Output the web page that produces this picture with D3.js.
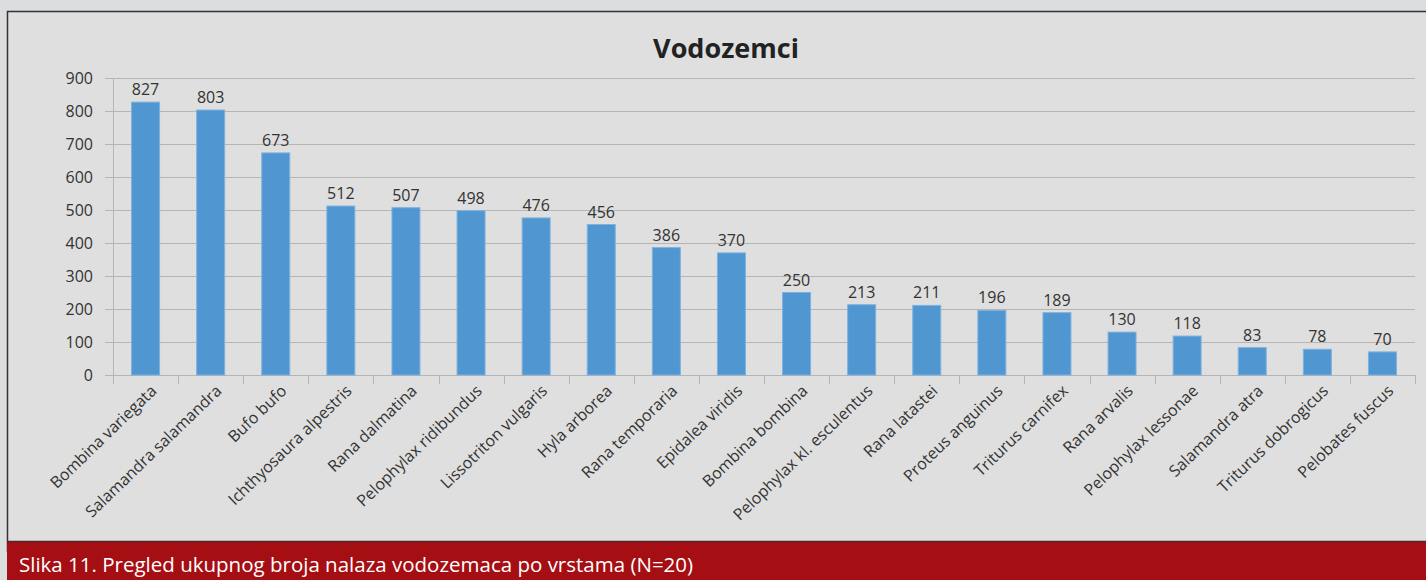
<!DOCTYPE html>
<html>
<head>
<meta charset="utf-8">
<script src="https://cdn.jsdelivr.net/npm/d3@7"></script>
<style>
  body { margin: 0; background: #dcdddf; }
  svg { display: block; font-family: "Open Sans", "Liberation Sans", sans-serif; }
</style>
</head>
<body>
<svg id="svg" width="1426" height="580"></svg>
<script>
// Data
var species = ["Bombina variegata", "Salamandra salamandra", "Bufo bufo", "Ichthyosaura alpestris",
    "Rana dalmatina", "Pelophylax ridibundus", "Lissotriton vulgaris", "Hyla arborea",
    "Rana temporaria", "Epidalea viridis", "Bombina bombina", "Pelophylax kl. esculentus",
    "Rana latastei", "Proteus anguinus", "Triturus carnifex", "Rana arvalis",
    "Pelophylax lessonae", "Salamandra atra", "Triturus dobrogicus", "Pelobates fuscus"];
var counts = [827, 803, 673, 512, 507, 498, 476, 456, 386, 370, 250, 213, 211, 196, 189, 130, 118, 83, 78, 70];
var yTicks = [0, 100, 200, 300, 400, 500, 600, 700, 800, 900];
var title = "Vodozemci";
var caption = "Slika 11. Pregled ukupnog broja nalaza vodozemaca po vrstama (N=20)";

var svg = d3.select("svg");

// frame and chart background
svg.append("rect")
    .attr("x", 7.5).attr("y", 11.5)
    .attr("width", 1430).attr("height", 540)
    .attr("fill", "#dfdfdf")
    .attr("stroke", "#333")
    .attr("stroke-width", 1.5);

// caption band
svg.append("rect")
    .attr("x", 7).attr("y", 541)
    .attr("width", 1430).attr("height", 40)
    .attr("fill", "#a50e13");
svg.append("line")
    .attr("x1", 7).attr("x2", 1426)
    .attr("y1", 541.5).attr("y2", 541.5)
    .attr("stroke", "#4a2a2a").attr("stroke-width", 1.5);
svg.append("text")
    .attr("x", 19).attr("y", 572)
    .attr("fill", "#fff")
    .attr("font-size", 20.5)
    .text(caption);

// title
svg.append("text")
    .attr("x", 726).attr("y", 58)
    .attr("text-anchor", "middle")
    .attr("font-weight", "bold")
    .attr("font-size", 27)
    .attr("fill", "#222")
    .text(title);

// scales
var x = d3.scaleBand()
    .domain(species)
    .range([113, 1415])
    .paddingInner(0.57)
    .paddingOuter(0.285);

var y = d3.scaleLinear()
    .domain([0, 900])
    .range([375, 78]);

// gridlines
svg.append("g")
    .selectAll("line")
    .data(yTicks)
    .enter().append("line")
    .attr("x1", 105).attr("x2", 1415)
    .attr("y1", function(d) { return Math.round(y(d)) + 0.5; })
    .attr("y2", function(d) { return Math.round(y(d)) + 0.5; })
    .attr("stroke", "#b5b5b5")
    .attr("stroke-width", 1);

// y axis line
svg.append("line")
    .attr("x1", 113.5).attr("x2", 113.5)
    .attr("y1", y(900)).attr("y2", y(0))
    .attr("stroke", "#b5b5b5");

// y tick labels
svg.append("g")
    .selectAll("text")
    .data(yTicks)
    .enter().append("text")
    .attr("x", 93)
    .attr("y", function(d) { return y(d) + 6; })
    .attr("text-anchor", "end")
    .attr("font-size", 16)
    .attr("fill", "#333")
    .text(function(d) { return d; });

// x axis ticks between categories
var step = x.step();
var bounds = species.map(function(d) { return x(d) - (step - x.bandwidth()) / 2; });
bounds.push(1415);
svg.append("g")
    .selectAll("line")
    .data(bounds)
    .enter().append("line")
    .attr("x1", function(d) { return Math.round(d) + 0.5; })
    .attr("x2", function(d) { return Math.round(d) + 0.5; })
    .attr("y1", y(0)).attr("y2", y(0) + 9)
    .attr("stroke", "#b5b5b5");

// bars
svg.append("g")
    .selectAll("rect")
    .data(counts)
    .enter().append("rect")
    .attr("x", function(d, i) { return x(species[i]); })
    .attr("y", function(d) { return y(d); })
    .attr("width", x.bandwidth())
    .attr("height", function(d) { return y(0) - y(d); })
    .attr("fill", "#5096d1")
    .attr("stroke", "#7fb2df")
    .attr("stroke-width", 1);

// value labels
svg.append("g")
    .selectAll("text")
    .data(counts)
    .enter().append("text")
    .attr("x", function(d, i) { return x(species[i]) + x.bandwidth() / 2; })
    .attr("y", function(d) { return y(d) - 7; })
    .attr("text-anchor", "middle")
    .attr("font-size", 16)
    .attr("fill", "#333")
    .text(function(d) { return d; });

// category labels, rotated
svg.append("g")
    .selectAll("text")
    .data(species)
    .enter().append("text")
    .attr("text-anchor", "end")
    .attr("font-size", 16)
    .attr("fill", "#333")
    .attr("transform", function(d) {
        return "translate(" + (x(d) + x.bandwidth() / 2 + 12) + "," + 392 + ") rotate(-44)";
    })
    .text(function(d) { return d; });
</script>
</body>
</html>
